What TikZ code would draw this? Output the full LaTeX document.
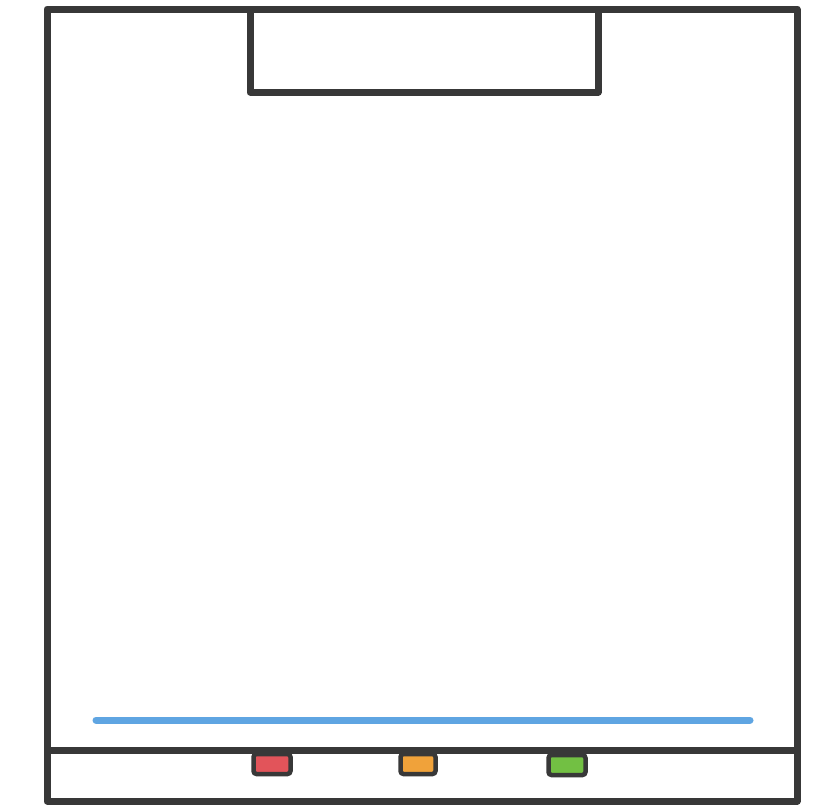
\documentclass[tikz,border=0pt]{standalone}
\definecolor{ink}{HTML}{383838}
\definecolor{bar}{HTML}{5FA5E2}
\definecolor{ledred}{HTML}{E2545A}
\definecolor{ledorange}{HTML}{F0A23A}
\definecolor{ledgreen}{HTML}{72C043}
\tikzset{
  frame/.style={draw=ink, line width=7pt, line join=round},
  led/.style={draw=ink, line width=4.5pt, rounded corners=3pt, minimum width=37pt, minimum height=20pt, inner sep=0pt}
}
\begin{document}
\begin{tikzpicture}[x=1pt,y=-1pt]
\useasboundingbox (0,0) rectangle (820,807);
\fill[white] (0,0) rectangle (820,807);
% outer housing
\draw[frame] (47,9) rectangle (797,801);
% top slot
\draw[frame] (250,9) rectangle (598,92);
% divider
\draw[frame] (47,750) -- (797,750);
% blue bar
\draw[bar, line width=7pt, line cap=round] (96,720) -- (750,720);
% indicator lights
\node[led, fill=ledred] (red) at (272,764) {};
\node[led, fill=ledorange, minimum width=35pt] (orange) at (418,764) {};
\node[led, fill=ledgreen] (green) at (567,765) {};
\end{tikzpicture}
\end{document}
